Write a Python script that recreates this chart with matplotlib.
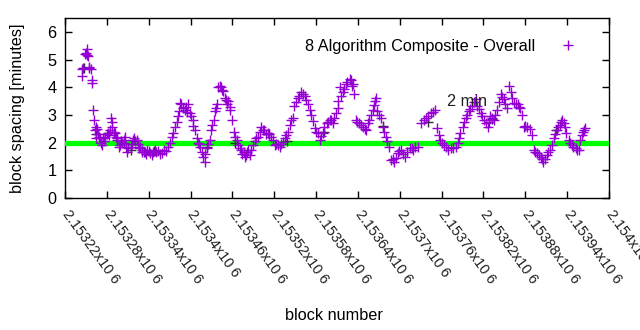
import matplotlib
matplotlib.use("Agg")
import matplotlib.pyplot as plt

plt.rcParams['font.family'] = ['Liberation Sans', 'DejaVu Sans']

# block offsets from 2153220 and spacing in minutes
start_block = 2153220
offsets = [24, 25, 29, 31, 33, 34, 37, 38, 39, 40, 41, 43, 45, 46, 48, 53, 58, 63,
           66, 67, 70, 72, 75, 77, 82, 86, 89, 94, 99, 103, 108, 113, 118, 122, 129,
           139, 148, 153, 158, 162, 165, 172, 177, 179, 183, 186, 189, 194, 198, 200,
           203, 208, 210, 213, 215, 218, 220, 222, 227, 229, 234, 237, 240, 244, 246,
           251, 256, 258, 263,
           265, 270, 277, 281, 284, 291, 296, 301, 308, 313, 317, 322, 327, 329, 334,
           339, 344, 348, 351, 356, 358, 363, 365, 370, 375, 380, 384, 389, 394, 396,
           398, 403, 408, 413, 415, 417, 422, 427, 432, 436, 441, 444, 446, 448, 453,
           456, 460, 465, 467, 472, 477, 482, 487, 494, 499, 506, 510, 518, 525, 530,
           533, 536, 541, 546, 553, 560, 565, 570, 575, 579, 584, 589, 591, 596, 601,
           606, 610, 615, 620, 625, 629, 634, 637, 639, 644, 649, 653, 658, 663,
           670, 672, 677, 682, 686, 691, 696, 701, 705, 710, 713, 717, 722, 727, 732,
           737, 739, 741, 746]
spacing = [4.41, 4.66, 5.20, 5.39, 5.12, 4.74, 4.66, 4.27, 4.15, 3.19, 2.80, 2.46, 2.17,
           2.50, 2.22, 1.91, 2.22, 2.28, 2.89, 2.73, 2.40, 2.34, 2.17, 1.85, 1.98, 2.22,
           1.67, 1.85, 2.17, 2.10, 1.85, 1.67, 1.73, 1.61, 1.73,
           1.61, 1.85, 2.22, 2.58, 2.95, 3.44, 3.19, 3.38, 3.07, 2.83, 2.46, 2.16, 1.85,
           1.49, 1.30, 1.79, 2.10, 2.46, 2.83, 3.13, 3.38, 3.99, 4.05, 3.86, 3.62, 3.50,
           3.19, 2.83, 2.22, 2.10, 1.79, 1.67, 1.49, 1.73,
           1.55, 1.91, 2.22, 2.58, 2.46, 2.34, 2.22, 1.91, 1.85, 2.03, 2.28, 2.65, 2.89,
           3.32, 3.62, 3.81, 3.68, 3.38, 3.19, 2.77, 2.52, 2.34, 2.10, 2.34, 2.71, 2.83,
           2.71, 3.07, 3.99, 3.68,
           3.81, 4.11, 4.29, 4.11, 3.74, 2.83, 2.71, 2.58, 2.46, 2.83, 3.19, 3.50, 3.62,
           3.13, 2.89, 2.58, 2.22, 1.85, 1.36, 1.30, 1.61, 1.73, 1.49, 1.79, 1.73, 1.85,
           2.71, 2.89, 3.07, 3.19,
           2.52, 2.28, 1.98, 1.85, 1.79, 1.85, 2.16, 2.58, 2.89, 3.13, 3.32, 3.56, 3.32,
           3.07, 2.83, 2.58, 2.95, 2.83, 3.19, 3.74, 3.56, 3.26, 4.05, 3.81, 3.44, 3.38,
           3.26, 2.58, 2.58,
           2.28, 1.73, 1.61, 1.49, 1.30, 1.55, 1.73, 2.16, 2.46, 2.65, 2.83, 2.58, 2.10,
           1.91, 1.79, 1.73, 2.10, 2.28, 2.52]

# more marks read from the dense clusters
offsets_b = [26, 30, 32, 35, 44, 47, 50, 51, 55, 56, 60, 61, 64, 68, 73, 74, 79, 80,
             84, 88, 91, 96, 97, 101, 105, 106, 110, 111, 115, 116, 120, 124, 126, 131,
             134, 136,
             142, 145, 150, 155, 160, 163, 167, 169, 174, 175, 181, 184, 191, 192, 196,
             201, 205, 211, 216, 224, 225, 231, 232, 236, 242, 248, 253, 254, 260, 261,
             267, 272, 274, 279, 286, 288, 293, 298, 303, 305, 310, 315, 319, 324, 331,
             336, 341, 346, 353, 360, 367, 372, 377, 382, 386, 391, 392,
             400, 405, 410, 411, 419, 424, 430, 434, 438, 443, 450, 458, 462, 470, 474,
             479, 485, 490, 497, 502, 514, 521, 528,
             538, 543, 549, 556, 563, 567, 572, 577, 581, 586, 593, 598, 603, 608, 612,
             617, 622, 627, 631, 641, 646, 651, 655, 660,
             666, 674, 679, 684, 688, 693, 698, 703, 707, 711, 715, 719, 724, 729, 734,
             743, 744]
spacing_b = [4.70, 5.25, 5.15, 4.70, 2.55, 2.30, 2.15, 2.00, 2.15, 2.05, 2.30, 2.35,
             2.45, 2.55, 2.20, 2.10, 1.90, 2.05, 2.10, 1.85, 1.80, 1.95, 2.10, 2.05,
             1.95, 1.80, 1.75, 1.65, 1.65, 1.60, 1.70, 1.55, 1.65, 1.65, 1.70, 1.60,
             1.75, 1.70, 2.00, 2.35, 2.75, 3.15, 3.40, 3.25, 3.30, 3.10, 2.95, 2.60,
             2.00, 1.95, 1.65, 1.60, 1.95, 2.65, 3.25, 4.00, 3.90, 3.55, 3.40, 3.30,
             2.40, 1.90, 1.75, 1.60, 1.55, 1.65,
             1.75, 2.05, 2.15, 2.40, 2.45, 2.30, 2.30, 2.10, 1.95, 1.90, 1.95, 2.15,
             2.40, 2.80, 3.45, 3.70, 3.75, 3.55, 3.00, 2.40, 2.25, 2.55, 2.75, 2.80,
             2.90, 3.25, 3.50,
             3.95, 4.20, 4.25, 4.05, 2.75, 2.65, 2.50, 2.70, 3.00, 3.35, 3.00, 2.40,
             2.05, 1.40, 1.45, 1.70, 1.60, 1.65, 1.80, 1.85, 2.80, 2.95, 3.10,
             2.10, 1.90, 1.75, 1.80, 2.00, 2.35, 2.75, 3.00, 3.20, 3.45, 3.20, 2.95,
             2.70, 2.75, 2.90, 3.00, 3.45, 3.65, 3.40, 3.60, 3.40, 3.30, 3.00, 2.60,
             2.50, 1.65, 1.55, 1.40, 1.40, 1.65, 1.90, 2.30, 2.55, 2.75, 2.70, 2.35,
             2.00, 1.85, 1.75, 2.40, 2.45]

# a few darker points peeking out underneath
dark_offsets = [27, 44, 84, 94, 128, 203, 244, 292, 318, 371, 456, 520, 612, 704]
dark_spacing = [4.70, 2.30, 2.00, 1.75, 1.70, 1.85, 2.00, 2.30, 2.05, 2.40, 2.60, 2.75, 2.85, 2.45]

target = 2.0
tick_blocks = list(range(2153220, 2154001, 60))
tick_labels = ["2.15322x10 6", "2.15328x10 6", "2.15334x10 6", "2.1534x10 6",
               "2.15346x10 6", "2.15352x10 6", "2.15358x10 6", "2.15364x10 6",
               "2.1537x10 6", "2.15376x10 6", "2.15382x10 6", "2.15388x10 6",
               "2.15394x10 6", "2.154x10 6"]

blocks = [start_block + o for o in offsets]
blocks_b = [start_block + o for o in offsets_b]
dark_blocks = [start_block + o for o in dark_offsets]

fs = 11.7
purple = '#9400d3'

fig = plt.figure(figsize=(6.4, 3.3), dpi=100)
ax = fig.add_axes([0.1016, 0.4, 0.85, 0.5455])

ax.plot([2153220, 2154000], [target, target], color='#00ff00', lw=3.8, zorder=3)
ax.plot(dark_blocks, dark_spacing, '+', color='#303030', ms=7, mew=1.0, zorder=4)
ax.plot(blocks_b, spacing_b, '+', color=purple, ms=7, mew=1.0, zorder=5)
ax.plot(blocks, spacing, '+', color=purple, ms=7, mew=1.0, zorder=5,
        label='8 Algorithm Composite - Overall')

ax.text(start_block + 548, 3.49, '2 min', fontsize=fs, color='#202020',
        va='center', ha='left', zorder=6)

ax.set_xlim(2153220, 2154000)
ax.set_ylim(0, 6.5)
ax.set_yticks(range(0, 7))
ax.set_xticks(tick_blocks)
ax.set_xticklabels(tick_labels, rotation=-54, ha='left', va='center',
                   rotation_mode='anchor', fontsize=10.4, color='#202020')
ax.tick_params(axis='y', labelsize=fs)
ax.tick_params(direction='in', length=5, width=1, top=True, right=True, pad=6)
ax.tick_params(axis='x', pad=9.5)
for s in ax.spines.values():
    s.set_linewidth(1.0)

ax.set_ylabel('block spacing [minutes]', fontsize=fs)
ax.yaxis.set_label_coords(-0.074, 0.5)
fig.text(0.522, 0.045, 'block number', ha='center', va='center', fontsize=fs)

ax.legend(loc='upper right', frameon=False, markerfirst=False, fontsize=fs,
          handlelength=2.5, borderaxespad=0.87, handletextpad=0.79)

fig.savefig('out.png', dpi=100)
